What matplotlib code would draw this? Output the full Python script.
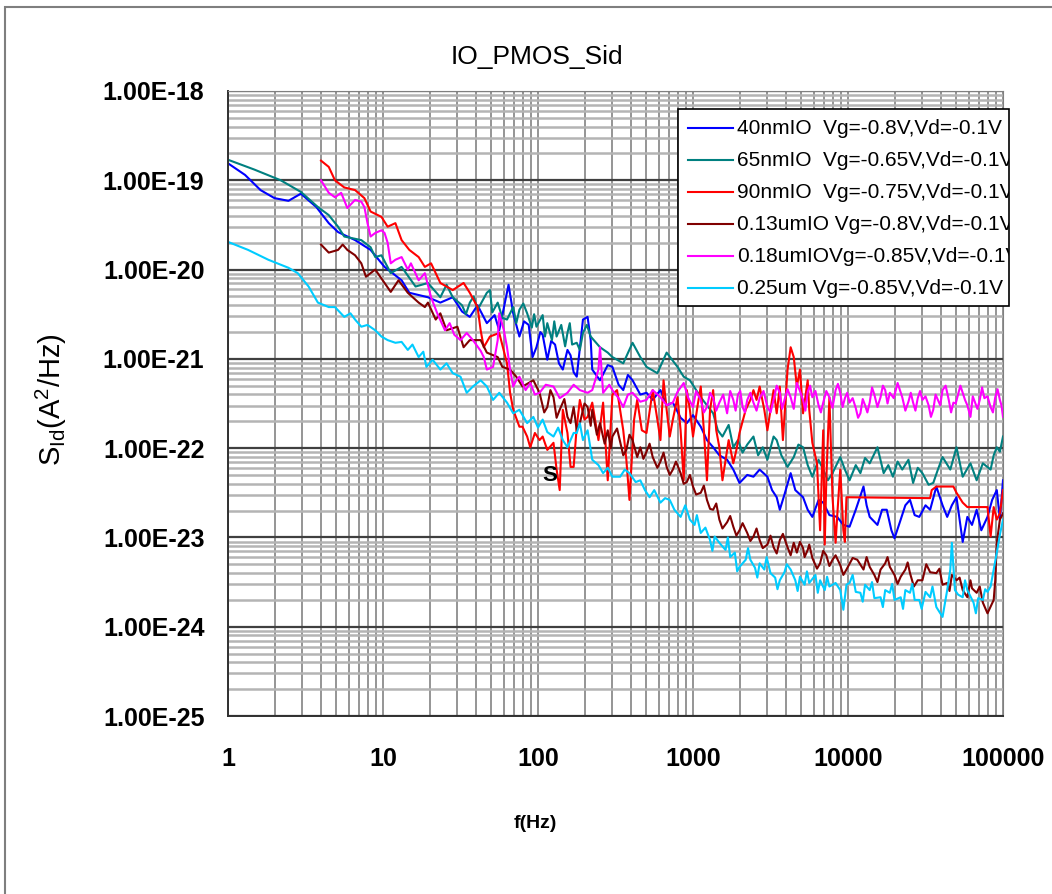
import numpy as np
import matplotlib
matplotlib.use("Agg")
import matplotlib.pyplot as plt
from matplotlib.lines import Line2D
from matplotlib.patches import Rectangle
from matplotlib.ticker import LogLocator, NullFormatter
from matplotlib.transforms import Bbox, TransformedBbox

plt.rcParams["font.family"] = ["Liberation Sans", "DejaVu Sans"]
plt.rcParams["mathtext.fontset"] = "custom"
plt.rcParams["mathtext.rm"] = "Liberation Sans"

# (log10 f [Hz], log10 S_Id [A^2/Hz]) for each device
spec_40nm = [
    (0.00, -18.81), (0.11, -18.94), (0.21, -19.11), (0.30, -19.20), (0.39, -19.23),
    (0.47, -19.15), (0.57, -19.30), (0.65, -19.48), (0.71, -19.58), (0.82, -19.67),
    (0.92, -19.78), (1.01, -19.97), (1.12, -20.12), (1.17, -20.26), (1.29, -20.31),
    (1.37, -20.37), (1.45, -20.31), (1.51, -20.47), (1.56, -20.53), (1.61, -20.40),
    (1.67, -20.60), (1.72, -20.51), (1.75, -20.68), (1.79, -20.34), (1.81, -20.17),
    (1.84, -20.49), (1.88, -20.75), (1.91, -20.58), (1.94, -20.62), (1.965, -20.98),
    (1.99, -20.87), (2.015, -20.70), (2.03, -20.73), (2.06, -21.01), (2.085, -20.80),
    (2.11, -20.84), (2.135, -21.05), (2.16, -21.12), (2.19, -20.90), (2.21, -20.96),
    (2.23, -21.15), (2.25, -21.20), (2.29, -20.56), (2.32, -20.53), (2.34, -20.79),
    (2.35, -21.12), (2.40, -21.24), (2.45, -21.07), (2.48, -21.09), (2.52, -21.29),
    (2.55, -21.35), (2.58, -21.18), (2.61, -21.24), (2.66, -21.40), (2.70, -21.38),
    (2.74, -21.46), (2.79, -21.35), (2.83, -21.52), (2.87, -21.49), (2.92, -21.66),
    (2.96, -21.72), (3.00, -21.63), (3.05, -21.76), (3.09, -21.91), (3.13, -21.99),
    (3.17, -22.08), (3.22, -22.13), (3.26, -22.24), (3.30, -22.39), (3.35, -22.30),
    (3.39, -22.32), (3.43, -22.24), (3.48, -22.32), (3.51, -22.47), (3.54, -22.55),
    (3.56, -22.69), (3.59, -22.52), (3.63, -22.28), (3.66, -22.47), (3.71, -22.55),
    (3.74, -22.69), (3.77, -22.77), (3.81, -22.58), (3.84, -22.61), (3.88, -22.75),
    (3.93, -22.77), (3.97, -22.86), (4.01, -22.88), (4.05, -22.69), (4.10, -22.43),
    (4.12, -22.64), (4.14, -22.77), (4.19, -22.86), (4.22, -22.69), (4.25, -22.69),
    (4.28, -22.92), (4.30, -23.01), (4.34, -22.80), (4.37, -22.64), (4.40, -22.58),
    (4.43, -22.75), (4.46, -22.77), (4.50, -22.64), (4.53, -22.69), (4.57, -22.43),
    (4.61, -22.64), (4.64, -22.77), (4.67, -22.64), (4.70, -22.55), (4.74, -23.05),
    (4.77, -22.77), (4.80, -22.86), (4.83, -22.69), (4.86, -22.92), (4.90, -22.77),
    (4.93, -22.58), (4.96, -22.47), (4.98, -22.80), (5.00, -22.36),
]

spec_65nm = [
    (0.00, -18.77), (0.17, -18.88), (0.34, -19.00), (0.47, -19.13), (0.58, -19.30),
    (0.65, -19.39), (0.71, -19.52), (0.75, -19.63), (0.86, -19.67), (0.92, -19.75),
    (0.95, -19.86), (0.99, -19.84), (1.05, -20.04), (1.12, -19.97), (1.21, -20.19),
    (1.29, -20.15), (1.37, -20.31), (1.41, -20.17), (1.45, -20.31), (1.51, -20.40),
    (1.535, -20.50), (1.56, -20.37), (1.585, -20.30), (1.61, -20.45), (1.67, -20.26),
    (1.69, -20.23), (1.705, -20.48), (1.74, -20.37), (1.77, -20.54), (1.80, -20.56),
    (1.84, -20.42), (1.86, -20.60), (1.88, -20.45), (1.905, -20.38), (1.93, -20.49),
    (1.96, -20.65), (1.975, -20.50), (1.99, -20.64), (2.03, -20.51), (2.045, -20.75),
    (2.06, -20.60), (2.09, -20.79), (2.105, -20.58), (2.12, -20.75), (2.15, -20.62),
    (2.175, -20.86), (2.19, -20.71), (2.205, -20.60), (2.22, -20.84), (2.25, -20.82),
    (2.27, -20.90), (2.29, -20.71), (2.315, -20.62), (2.34, -20.75), (2.40, -20.87),
    (2.45, -20.93), (2.48, -20.98), (2.55, -21.05), (2.61, -20.82), (2.66, -20.98),
    (2.70, -21.09), (2.77, -21.16), (2.83, -20.93), (2.90, -21.09), (2.94, -21.20),
    (2.98, -21.24), (3.05, -21.43), (3.09, -21.52), (3.13, -21.61), (3.16, -21.80),
    (3.19, -21.87), (3.23, -21.74), (3.26, -21.99), (3.29, -21.91), (3.32, -22.05),
    (3.35, -21.96), (3.39, -21.87), (3.42, -22.08), (3.45, -21.99), (3.48, -22.13),
    (3.52, -21.87), (3.54, -21.91), (3.57, -22.08), (3.61, -22.21), (3.65, -22.10),
    (3.68, -21.96), (3.71, -21.99), (3.74, -22.19), (3.77, -22.32), (3.81, -22.13),
    (3.84, -22.24), (3.87, -22.36), (3.90, -22.28), (3.95, -22.10), (3.98, -22.24),
    (4.01, -22.36), (4.05, -22.19), (4.08, -22.28), (4.11, -22.11), (4.14, -22.17),
    (4.19, -21.99), (4.23, -22.28), (4.26, -22.19), (4.29, -22.32), (4.32, -22.15),
    (4.35, -22.24), (4.39, -22.13), (4.42, -22.39), (4.45, -22.22), (4.48, -22.28),
    (4.52, -22.41), (4.55, -22.39), (4.58, -22.24), (4.61, -22.10), (4.66, -22.24),
    (4.70, -21.99), (4.74, -22.32), (4.79, -22.17), (4.83, -22.36), (4.87, -22.17),
    (4.92, -22.24), (4.94, -22.08), (4.96, -21.99), (4.98, -22.04), (5.00, -21.87),
]

spec_90nm = [
    (0.60, -18.78), (0.65, -18.85), (0.69, -19.00), (0.75, -19.08), (0.82, -19.11),
    (0.88, -19.20), (0.92, -19.35), (0.99, -19.41), (1.03, -19.52), (1.08, -19.48),
    (1.12, -19.67), (1.17, -19.78), (1.23, -19.86), (1.27, -19.97), (1.31, -19.93),
    (1.37, -20.15), (1.41, -20.19), (1.45, -20.23), (1.52, -20.15), (1.56, -20.26),
    (1.61, -20.42), (1.63, -20.68), (1.65, -20.87), (1.69, -20.75), (1.75, -20.71),
    (1.80, -21.05), (1.82, -21.38), (1.84, -21.57), (1.88, -21.76), (1.90, -21.76),
    (1.93, -21.87), (1.95, -21.99), (1.98, -21.83), (2.01, -21.91), (2.03, -21.87),
    (2.06, -22.02), (2.10, -21.94), (2.12, -22.24), (2.14, -22.47), (2.16, -21.57),
    (2.19, -21.83), (2.21, -22.21), (2.23, -22.21), (2.25, -21.76), (2.27, -21.46),
    (2.30, -21.68), (2.32, -21.65), (2.35, -21.49), (2.39, -21.91), (2.42, -21.49),
    (2.45, -22.36), (2.48, -21.40), (2.51, -21.35), (2.55, -21.80), (2.57, -22.13),
    (2.59, -22.58), (2.62, -21.68), (2.64, -21.46), (2.67, -21.80), (2.70, -21.83),
    (2.74, -21.35), (2.77, -21.68), (2.79, -21.91), (2.81, -21.24), (2.83, -21.57),
    (2.85, -21.87), (2.87, -21.68), (2.90, -21.43), (2.92, -21.80), (2.94, -22.36),
    (2.96, -21.35), (2.98, -21.57), (3.00, -21.87), (3.03, -21.52), (3.05, -21.31),
    (3.07, -21.80), (3.09, -22.36), (3.11, -21.57), (3.13, -21.35), (3.15, -21.80),
    (3.17, -21.99), (3.19, -22.36), (3.23, -21.91), (3.26, -22.17), (3.28, -22.02),
    (3.30, -21.83), (3.34, -21.57), (3.37, -21.46), (3.39, -21.35), (3.41, -21.46),
    (3.43, -21.31), (3.46, -21.57), (3.48, -21.80), (3.50, -21.57), (3.52, -21.35),
    (3.54, -21.61), (3.56, -21.31), (3.58, -21.91), (3.61, -21.12), (3.63, -20.87),
    (3.65, -20.98), (3.67, -21.31), (3.69, -21.12), (3.71, -21.61), (3.74, -21.24),
    (3.75, -21.57), (3.77, -21.94), (3.80, -22.17), (3.82, -22.92), (3.84, -21.80),
    (3.85, -23.08), (3.86, -22.36), (3.88, -21.43), (3.90, -22.55), (3.92, -23.06),
    (3.93, -22.77), (3.95, -22.24), (3.97, -22.92), (3.98, -23.05), (3.99, -22.55),
    (4.53, -22.56), (4.54, -22.47), (4.57, -22.43), (4.68, -22.43), (4.70, -22.50),
    (4.74, -22.61), (4.77, -22.66), (4.90, -22.66), (4.92, -22.99), (4.94, -22.66),
    (4.96, -22.80), (4.98, -22.73), (5.00, -22.47),
]

spec_130nm = [
    (0.60, -19.72), (0.65, -19.81), (0.71, -19.78), (0.74, -19.72), (0.77, -19.78),
    (0.82, -19.84), (0.86, -19.93), (0.89, -20.08), (0.95, -20.00), (1.01, -20.15),
    (1.05, -20.25), (1.10, -20.12), (1.16, -20.26), (1.23, -20.37), (1.27, -20.42),
    (1.29, -20.37), (1.34, -20.56), (1.37, -20.49), (1.41, -20.68), (1.48, -20.64),
    (1.52, -20.87), (1.56, -20.79), (1.63, -20.79), (1.67, -20.93), (1.74, -20.98),
    (1.77, -21.09), (1.82, -21.12), (1.86, -21.20), (1.90, -21.31), (1.97, -21.24),
    (2.01, -21.38), (2.04, -21.60), (2.06, -21.54), (2.08, -21.35), (2.10, -21.43),
    (2.12, -21.66), (2.14, -21.57), (2.17, -21.45), (2.19, -21.65), (2.21, -21.72),
    (2.23, -21.54), (2.25, -21.80), (2.27, -21.72), (2.30, -21.50), (2.32, -21.54),
    (2.34, -21.75), (2.35, -21.57), (2.38, -21.85), (2.40, -21.72), (2.43, -21.95),
    (2.45, -21.80), (2.47, -22.00), (2.48, -21.87), (2.51, -21.78), (2.53, -21.93),
    (2.55, -22.08), (2.57, -22.02), (2.59, -21.85), (2.61, -21.91), (2.64, -22.10),
    (2.66, -21.99), (2.68, -22.12), (2.70, -22.04), (2.72, -21.95), (2.74, -22.10),
    (2.77, -22.22), (2.79, -22.15), (2.81, -22.05), (2.83, -22.21), (2.85, -22.30),
    (2.87, -22.24), (2.89, -22.15), (2.92, -22.28), (2.94, -22.40), (2.96, -22.38),
    (2.98, -22.30), (3.00, -22.43), (3.02, -22.52), (3.05, -22.50), (3.07, -22.42),
    (3.09, -22.58), (3.11, -22.68), (3.13, -22.69), (3.15, -22.62), (3.17, -22.80),
    (3.19, -22.90), (3.22, -22.83), (3.24, -22.76), (3.26, -22.88), (3.28, -22.98),
    (3.30, -22.92), (3.32, -22.84), (3.35, -22.95), (3.37, -23.04), (3.39, -22.99),
    (3.41, -22.90), (3.43, -23.03), (3.45, -23.12), (3.48, -23.08), (3.50, -22.98),
    (3.52, -23.11), (3.54, -23.18), (3.56, -23.03), (3.58, -22.96), (3.61, -23.11),
    (3.63, -23.20), (3.65, -23.06), (3.67, -23.17), (3.69, -23.05), (3.71, -23.12),
    (3.72, -23.22), (3.74, -23.14), (3.75, -23.08), (3.77, -23.23), (3.80, -23.35),
    (3.82, -23.29), (3.84, -23.15), (3.86, -23.20), (3.88, -23.32), (3.90, -23.25),
    (3.92, -23.20), (3.95, -23.31), (3.97, -23.42), (3.99, -23.36), (4.03, -23.23),
    (4.06, -23.25), (4.10, -23.36), (4.12, -23.22), (4.14, -23.33), (4.17, -23.42),
    (4.19, -23.50), (4.21, -23.36), (4.24, -23.29), (4.255, -23.22), (4.27, -23.33),
    (4.30, -23.42), (4.32, -23.52), (4.34, -23.44), (4.37, -23.36), (4.385, -23.28),
    (4.40, -23.40), (4.425, -23.55), (4.45, -23.48), (4.48, -23.48), (4.505, -23.30),
    (4.53, -23.39), (4.57, -23.40), (4.59, -23.35), (4.61, -23.53), (4.64, -23.51),
    (4.655, -23.60), (4.67, -23.42), (4.70, -23.48), (4.72, -23.45), (4.74, -23.59),
    (4.77, -23.67), (4.79, -23.48), (4.80, -23.57), (4.83, -23.62), (4.85, -23.55),
    (4.87, -23.73), (4.90, -23.85), (4.94, -23.70), (4.95, -23.48), (4.96, -23.06),
    (4.98, -22.80), (5.00, -22.73),
]

spec_180nm = [
    (0.60, -19.00), (0.65, -19.14), (0.69, -19.19), (0.73, -19.14), (0.77, -19.31),
    (0.82, -19.22), (0.86, -19.24), (0.88, -19.30), (0.90, -19.48), (0.92, -19.63),
    (0.95, -19.59), (0.99, -19.56), (1.01, -19.59), (1.03, -19.70), (1.05, -19.93),
    (1.08, -19.89), (1.12, -19.86), (1.16, -20.00), (1.18, -19.93), (1.23, -20.12),
    (1.27, -20.04), (1.31, -20.31), (1.35, -20.49), (1.40, -20.68), (1.43, -20.60),
    (1.46, -20.73), (1.50, -20.79), (1.54, -20.71), (1.58, -20.79), (1.63, -20.91),
    (1.65, -20.98), (1.67, -21.12), (1.71, -21.09), (1.74, -20.79), (1.75, -20.49),
    (1.78, -20.68), (1.80, -20.87), (1.82, -21.12), (1.84, -21.31), (1.86, -21.24),
    (1.88, -21.20), (1.92, -21.35), (1.95, -21.27), (1.98, -21.40), (2.01, -21.38),
    (2.05, -21.29), (2.10, -21.31), (2.14, -21.44), (2.19, -21.38), (2.23, -21.29),
    (2.27, -21.35), (2.32, -21.38), (2.35, -21.35), (2.39, -21.12), (2.40, -20.87),
    (2.42, -21.38), (2.46, -21.29), (2.48, -21.35), (2.52, -21.44), (2.55, -21.54),
    (2.58, -21.40), (2.61, -21.38), (2.66, -21.48), (2.70, -21.46), (2.74, -21.35),
    (2.79, -21.43), (2.83, -21.52), (2.87, -21.49), (2.90, -21.37), (2.94, -21.27),
    (2.97, -21.44), (3.00, -21.54), (3.02, -21.36), (3.05, -21.46), (3.07, -21.60),
    (3.09, -21.54), (3.11, -21.38), (3.13, -21.44), (3.15, -21.58), (3.17, -21.49),
    (3.195, -21.40), (3.22, -21.61), (3.24, -21.36), (3.26, -21.46), (3.275, -21.58),
    (3.29, -21.40), (3.305, -21.36), (3.32, -21.54), (3.335, -21.60), (3.35, -21.46),
    (3.37, -21.38), (3.39, -21.49), (3.41, -21.58), (3.43, -21.44), (3.455, -21.36),
    (3.48, -21.54), (3.50, -21.60), (3.52, -21.46), (3.54, -21.30), (3.56, -21.38),
    (3.575, -21.56), (3.59, -21.46), (3.61, -21.34), (3.63, -21.43), (3.65, -21.56),
    (3.67, -21.27), (3.69, -21.36), (3.71, -21.46), (3.725, -21.58), (3.74, -21.37),
    (3.755, -21.30), (3.77, -21.43), (3.79, -21.36), (3.81, -21.52), (3.825, -21.60),
    (3.84, -21.49), (3.86, -21.36), (3.88, -21.43), (3.90, -21.55), (3.92, -21.35),
    (3.935, -21.28), (3.95, -21.38), (3.965, -21.54), (3.98, -21.44), (3.995, -21.38),
    (4.01, -21.49), (4.03, -21.44), (4.05, -21.55), (4.065, -21.66), (4.08, -21.61),
    (4.095, -21.45), (4.11, -21.52), (4.125, -21.60), (4.14, -21.49), (4.155, -21.32),
    (4.17, -21.40), (4.19, -21.54), (4.21, -21.43), (4.225, -21.30), (4.24, -21.35),
    (4.255, -21.50), (4.27, -21.38), (4.295, -21.44), (4.32, -21.27), (4.335, -21.35),
    (4.35, -21.43), (4.37, -21.58), (4.39, -21.48), (4.405, -21.38), (4.42, -21.49),
    (4.435, -21.58), (4.45, -21.44), (4.465, -21.36), (4.48, -21.46), (4.50, -21.42),
    (4.52, -21.52), (4.535, -21.65), (4.55, -21.57), (4.565, -21.40), (4.58, -21.46),
    (4.595, -21.52), (4.61, -21.35), (4.63, -21.30), (4.65, -21.46), (4.665, -21.60),
    (4.68, -21.49), (4.695, -21.50), (4.71, -21.40), (4.725, -21.30), (4.74, -21.38),
    (4.755, -21.46), (4.77, -21.52), (4.79, -21.65), (4.805, -21.42), (4.82, -21.49),
    (4.835, -21.56), (4.85, -21.46), (4.865, -21.32), (4.88, -21.44), (4.90, -21.42),
    (4.92, -21.54), (4.935, -21.60), (4.95, -21.43), (4.965, -21.34), (4.98, -21.46),
    (4.99, -21.52), (5.00, -21.65),
]

spec_250nm = [
    (0.00, -19.69), (0.13, -19.78), (0.26, -19.89), (0.39, -19.98), (0.45, -20.04),
    (0.52, -20.19), (0.58, -20.37), (0.65, -20.42), (0.69, -20.42), (0.75, -20.53),
    (0.79, -20.49), (0.82, -20.56), (0.86, -20.64), (0.90, -20.62), (0.95, -20.68),
    (0.99, -20.75), (1.03, -20.79), (1.08, -20.82), (1.12, -20.81), (1.16, -20.90),
    (1.19, -20.84), (1.23, -20.98), (1.26, -20.92), (1.28, -21.09), (1.32, -21.01),
    (1.37, -21.12), (1.41, -21.05), (1.45, -21.16), (1.50, -21.20), (1.54, -21.38),
    (1.58, -21.31), (1.63, -21.24), (1.67, -21.31), (1.71, -21.46), (1.75, -21.38),
    (1.80, -21.49), (1.84, -21.61), (1.88, -21.57), (1.93, -21.72), (1.97, -21.65),
    (2.00, -21.77), (2.03, -21.68), (2.06, -21.82), (2.10, -21.87), (2.13, -21.77),
    (2.16, -21.91), (2.19, -21.99), (2.23, -21.83), (2.25, -21.83), (2.27, -21.72),
    (2.29, -21.91), (2.32, -21.80), (2.34, -22.02), (2.35, -22.13), (2.39, -22.19),
    (2.42, -22.28), (2.45, -22.22), (2.48, -22.32), (2.53, -22.32), (2.56, -22.24),
    (2.59, -22.28), (2.63, -22.38), (2.66, -22.36), (2.69, -22.47), (2.72, -22.55),
    (2.75, -22.47), (2.79, -22.61), (2.82, -22.56), (2.85, -22.58), (2.88, -22.69),
    (2.92, -22.77), (2.95, -22.64), (2.98, -22.80), (3.01, -22.86), (3.025, -22.75),
    (3.05, -22.95), (3.08, -22.89), (3.11, -23.03), (3.125, -23.15), (3.14, -22.99),
    (3.17, -23.06), (3.21, -23.14), (3.225, -23.00), (3.24, -23.22), (3.27, -23.17),
    (3.285, -23.38), (3.30, -23.33), (3.34, -23.25), (3.355, -23.12), (3.37, -23.25),
    (3.40, -23.34), (3.415, -23.45), (3.43, -23.29), (3.46, -23.36), (3.475, -23.22),
    (3.50, -23.40), (3.53, -23.45), (3.545, -23.58), (3.56, -23.48), (3.59, -23.39),
    (3.605, -23.30), (3.63, -23.36), (3.66, -23.48), (3.675, -23.60), (3.69, -23.44),
    (3.72, -23.53), (3.735, -23.38), (3.75, -23.51), (3.79, -23.42), (3.805, -23.62),
    (3.82, -23.48), (3.85, -23.59), (3.865, -23.44), (3.88, -23.55), (3.92, -23.51),
    (3.95, -23.59), (3.97, -23.81), (3.99, -23.53), (4.01, -23.51), (4.03, -23.42),
    (4.05, -23.61), (4.08, -23.62), (4.095, -23.72), (4.11, -23.53), (4.14, -23.59),
    (4.155, -23.50), (4.17, -23.68), (4.21, -23.67), (4.225, -23.78), (4.24, -23.59),
    (4.27, -23.62), (4.285, -23.52), (4.30, -23.70), (4.34, -23.67), (4.355, -23.80),
    (4.37, -23.59), (4.40, -23.62), (4.415, -23.52), (4.43, -23.70), (4.46, -23.70),
    (4.475, -23.80), (4.50, -23.61), (4.53, -23.67), (4.545, -23.55), (4.57, -23.78),
    (4.61, -23.89), (4.64, -23.59), (4.66, -23.36), (4.67, -23.06), (4.69, -23.59),
    (4.71, -23.64), (4.74, -23.67), (4.755, -23.48), (4.77, -23.59), (4.81, -23.73),
    (4.825, -23.85), (4.84, -23.68), (4.87, -23.70), (4.885, -23.58), (4.90, -23.61),
    (4.92, -23.55), (4.94, -23.36), (4.96, -23.17), (4.98, -22.97), (5.00, -22.80),
]

series_labels = [
    "40nmIO  Vg=-0.8V,Vd=-0.1V",
    "65nmIO  Vg=-0.65V,Vd=-0.1V",
    "90nmIO  Vg=-0.75V,Vd=-0.1V",
    "0.13umIO Vg=-0.8V,Vd=-0.1V",
    "0.18umIOVg=-0.85V,Vd=-0.1V",
    "0.25um Vg=-0.85V,Vd=-0.1V",
]
series_colors = ["#0000ff", "#008080", "#ff0000", "#800000", "#ff00ff", "#00ccff"]
series_data = [spec_40nm, spec_65nm, spec_90nm, spec_130nm, spec_180nm, spec_250nm]

W, H = 1052, 894
fig = plt.figure(figsize=(W / 100, H / 100), dpi=100)
ax = fig.add_axes([228 / W, 1 - 716 / H, (1003 - 228) / W, (716 - 91) / H])

for pts, color, label in zip(series_data, series_colors, series_labels):
    lf, ls = np.array(pts).T
    ax.plot(10.0 ** lf, 10.0 ** ls, color=color, lw=1.5, label=label)

ax.set_xscale("log")
ax.set_yscale("log")
ax.set_xlim(1, 1e5)
ax.set_ylim(1e-25, 1e-18)

x_major = 10.0 ** np.arange(0, 6)
y_major = 10.0 ** np.arange(-25, -17)
ax.set_xticks(x_major, labels=[f"{v:.0f}" for v in x_major], fontsize=18, fontweight="bold")
ax.set_yticks(y_major, labels=[f"{v:.2E}" for v in y_major], fontsize=18, fontweight="bold")
ax.xaxis.set_minor_locator(LogLocator(base=10, subs=np.arange(2, 10), numticks=100))
ax.yaxis.set_minor_locator(LogLocator(base=10, subs=np.arange(2, 10), numticks=100))
ax.xaxis.set_minor_formatter(NullFormatter())
ax.yaxis.set_minor_formatter(NullFormatter())
ax.tick_params(which="both", length=0)
ax.tick_params(axis="y", pad=17)
ax.tick_params(axis="x", pad=22)

ax.set_axisbelow(True)
ax.yaxis.grid(True, which="minor", color="#b4b4b4", lw=1.8)
ax.yaxis.grid(True, which="major", color="#404040", lw=1.6)
ax.xaxis.grid(True, which="both", color="#8c8c8c", lw=1.3)
for side in ["top", "right"]:
    ax.spines[side].set_color("#808080")
for side in ["left", "bottom"]:
    ax.spines[side].set_color("#303030")
    ax.spines[side].set_linewidth(1.4)

ax.text(119, 5.0e-23, "S", fontsize=16, fontweight="bold", ha="center", va="center")

# legend box drawn by hand so the long labels get cut at its right edge
lx0, ly0, lx1, ly1 = 678 / W, 1 - 306 / H, 1009 / W, 1 - 109 / H
fig.add_artist(Rectangle((lx0, ly0), lx1 - lx0, ly1 - ly0, transform=fig.transFigure,
                         fc="white", ec="black", lw=1.2, zorder=5))
clip = TransformedBbox(Bbox([[lx0, ly0], [lx1, ly1]]), fig.transFigure)
for i, (color, label) in enumerate(zip(series_colors, series_labels)):
    yy = 1 - (128 + 32 * i) / H
    fig.add_artist(Line2D([688 / W, 733 / W], [yy, yy], transform=fig.transFigure,
                          color=color, lw=1.5, zorder=6))
    t = fig.text(737 / W, yy, label, fontsize=15, ha="left", va="center", zorder=6)
    t.set_clip_box(clip)
    t.set_clip_on(True)

fig.text(537 / W, 1 - 57 / H, "IO_PMOS_Sid", ha="center", va="center", fontsize=19)
fig.text(51 / W, 1 - 400 / H, r"S$_{\mathregular{Id}}$(A$^{\mathregular{2}}$/Hz)",
         rotation=90, ha="center", va="center", fontsize=21)
fig.text(535 / W, 1 - 823 / H, "f(Hz)", ha="center", va="center", fontsize=14,
         fontweight="bold")

# chart-area border, open at the right and bottom edges
fig.add_artist(Rectangle((5 / W, -0.05), 1.2, 1 - 7 / H + 0.05, transform=fig.transFigure,
                         fill=False, ec="#7f7f7f", lw=1.5))

fig.savefig("out.png", dpi=100)
